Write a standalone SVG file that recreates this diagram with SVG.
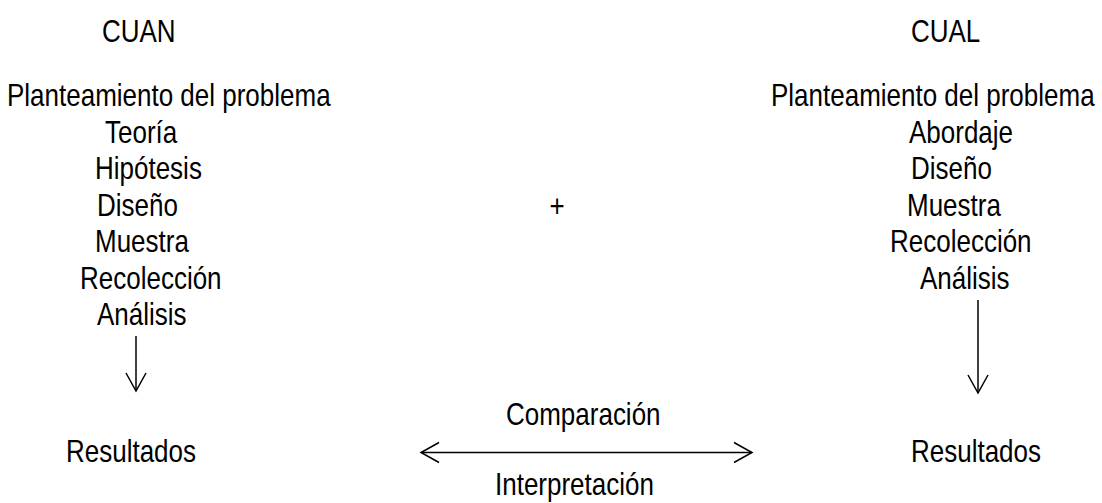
<svg xmlns="http://www.w3.org/2000/svg" width="1102" height="503" viewBox="0 0 1102 503">
<style>
text{font-family:"Liberation Sans",Arial,sans-serif;font-size:32px;fill:#000}
.ln{stroke:#000;stroke-width:1.5;fill:none}
</style>
<defs>
<marker id="ah" markerUnits="userSpaceOnUse" markerWidth="22" markerHeight="24" viewBox="0 0 22 24" refX="20" refY="12" orient="auto-start-reverse">
<path d="M2,2 L20,12 L2,22" fill="none" stroke="#000" stroke-width="1.5"/>
</marker>
</defs>
<rect width="1102" height="503" fill="#fff"/>
<g id="cuan">
<text transform="translate(102,42) scale(0.8125,1)">CUAN</text>
<text transform="translate(7,106) scale(0.8125,1)">Planteamiento del problema</text>
<text transform="translate(105,142.5) scale(0.8125,1)">Teoría</text>
<text transform="translate(95,179) scale(0.8125,1)">Hipótesis</text>
<text transform="translate(97,215.5) scale(0.8125,1)">Diseño</text>
<text transform="translate(95,252) scale(0.8125,1)">Muestra</text>
<text transform="translate(80,288.5) scale(0.8125,1)">Recolección</text>
<text transform="translate(97,325) scale(0.8125,1)">Análisis</text>
</g>
<g id="cual">
<text transform="translate(911,42) scale(0.8125,1)">CUAL</text>
<text transform="translate(771,106) scale(0.8125,1)">Planteamiento del problema</text>
<text transform="translate(909,142.5) scale(0.8125,1)">Abordaje</text>
<text transform="translate(911,179) scale(0.8125,1)">Diseño</text>
<text transform="translate(907,215.5) scale(0.8125,1)">Muestra</text>
<text transform="translate(890,252) scale(0.8125,1)">Recolección</text>
<text transform="translate(920,288.5) scale(0.8125,1)">Análisis</text>
</g>
<g id="plus"><text transform="translate(557,217) scale(0.8125,1)" text-anchor="middle">+</text></g>
<g id="res-left"><text transform="translate(66,462) scale(0.8125,1)">Resultados</text></g>
<g id="res-right"><text transform="translate(911,462) scale(0.8125,1)">Resultados</text></g>
<g id="labels">
<text transform="translate(506,425) scale(0.8125,1)">Comparación</text>
<text transform="translate(495,495) scale(0.8125,1)">Interpretación</text>
</g>
<g id="connectors">
<line class="ln" x1="136" y1="336" x2="136" y2="391" marker-end="url(#ah)"/>
<line class="ln" x1="978" y1="300" x2="978" y2="393" marker-end="url(#ah)"/>
<line class="ln" x1="421" y1="452.5" x2="752" y2="452.5" marker-start="url(#ah)" marker-end="url(#ah)"/>
</g>
</svg>
